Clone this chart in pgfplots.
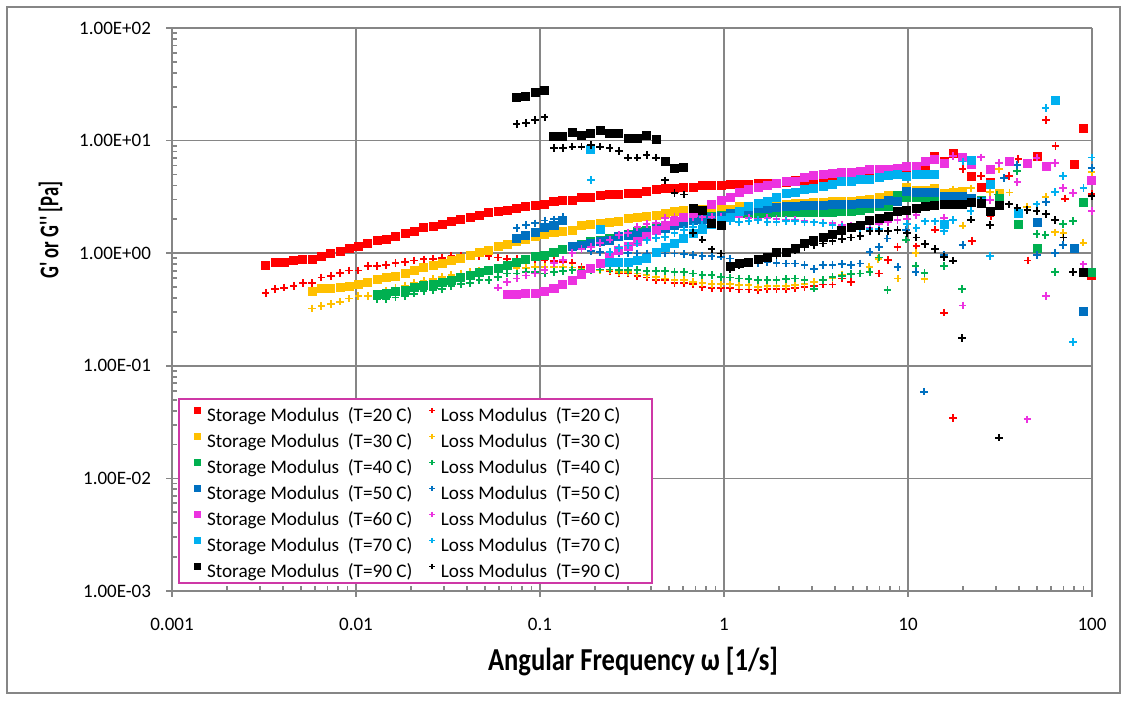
\documentclass[border=0pt]{standalone}
\usepackage{fontspec}
\setmainfont{Carlito}[Ligatures=TeXOff]
\usepackage{graphicx}
\usepackage{pgfplots}
\pgfplotsset{compat=1.18}

\definecolor{c20}{RGB}{255,0,0}
\definecolor{c30}{RGB}{255,192,0}
\definecolor{c40}{RGB}{0,176,80}
\definecolor{c50}{RGB}{0,112,192}
\definecolor{c60}{RGB}{236,50,224}
\definecolor{c70}{RGB}{0,176,240}
\definecolor{c90}{RGB}{0,0,0}
\definecolor{gridgray}{RGB}{134,134,134}
\definecolor{legframe}{RGB}{206,56,166}

\pgfplotsset{
  stor/.style={only marks, mark=square*, mark size=2pt, color=#1,
    legend image post style={mark size=1.5pt}},
  loss/.style={only marks, mark=+, mark size=1.9pt, color=#1,
    mark options={line width=0.95pt},
    legend image post style={mark size=1.3pt, mark options={line width=0.6pt}}},
}

\begin{document}
\begin{tikzpicture}
\path[use as bounding box] (-86pt,-54.5pt) rectangle (477.5pt,295.5pt);
\draw[gridgray, line width=0.8pt] (-82.5pt,-51pt) rectangle (474pt,292pt);

\begin{axis}[
  at={(0pt,0pt)}, anchor=south west,
  scale only axis, width=460pt, height=281.5pt,
  xmode=log, ymode=log,
  xmin=0.001, xmax=100, ymin=0.001, ymax=100,
  xtick={0.001,0.01,0.1,1,10,100},
  xticklabels={0.001,0.01,0.1,1,10,100},
  ytick={0.001,0.01,0.1,1,10,100},
  yticklabels={1.00E-03,1.00E-02,1.00E-01,1.00E+00,1.00E+01,1.00E+02},
  axis x line=bottom, axis y line=left,
  axis line style={-, draw=gridgray, line width=0.9pt},
  x axis line style={-}, y axis line style={-},
  grid=major, major grid style={draw=gridgray, line width=0.9pt},
  tick style={draw=gridgray, line width=0.9pt},
  tick align=center, major tick length=6pt, minor tick length=2.5pt,
  every minor x tick/.append style={yshift=1.25pt},
  every minor y tick/.append style={xshift=1.25pt},
  xticklabel style={font=\fontsize{9.5}{11}\selectfont, yshift=-7pt},
  yticklabel style={font=\fontsize{9.5}{11}\selectfont, xshift=-4pt},
  clip=false,
  legend columns=2,
  legend cell align=left,
  legend image code/.code={\draw[#1, yshift=3.1pt] plot coordinates {(0pt,0pt)};},
  legend style={at={(axis description cs:0.0242,0.3334)}, anchor=north west,
    draw=none, fill=none, inner sep=0pt,
    font=\fontsize{9.6}{11}\selectfont,
    nodes={inner xsep=0pt, inner ysep=1.75pt, text height=7pt, text depth=2.5pt},
    row sep=0pt,
    /tikz/column 1/.style={column sep=3.2pt},
    /tikz/column 2/.style={column sep=8.4pt},
    /tikz/column 3/.style={column sep=3.2pt}},
]

% T = 20 C
\addplot[stor=c20] coordinates {
(0.00323,0.78) (0.00363,0.837) (0.00407,0.837) (0.00458,0.861) (0.00514,0.879) (0.00577,0.879) (0.00649,0.94) (0.00729,0.99) (0.00818,1.04) (0.00919,1.11) (0.0103,1.15) (0.0116,1.21) (0.0130,1.29) (0.0146,1.32) (0.0164,1.40) (0.0185,1.50) (0.0207,1.57) (0.0233,1.68) (0.0262,1.73) (0.0294,1.81) (0.0330,1.92) (0.0371,1.98) (0.0417,2.09) (0.0468,2.16) (0.0526,2.30) (0.0591,2.36) (0.0664,2.42) (0.0746,2.50) (0.0838,2.58) (0.0941,2.65) (0.106,2.72) (0.119,2.86) (0.133,2.96) (0.150,2.96) (0.168,3.14) (0.189,3.14) (0.212,3.23) (0.239,3.32) (0.268,3.32) (0.301,3.43) (0.338,3.43) (0.380,3.53) (0.427,3.65) (0.479,3.76) (0.538,3.76) (0.605,3.83) (0.679,3.83) (0.763,3.99) (0.857,3.99) (0.963,3.99) (1.08,4.10) (1.21,4.10) (1.36,4.10) (1.53,4.21) (1.72,4.21) (1.93,4.21) (2.17,4.25) (2.44,4.39) (2.74,4.45) (3.08,4.48) (3.46,4.57) (3.89,4.57) (4.37,4.70) (4.90,4.76) (5.51,4.83) (6.19,4.96) (6.95,4.96) (7.81,5.03) (8.77,5.03) (9.85,5.10) (11.1,5.24) (12.4,5.46) (14.0,7.17) (15.7,6.47) (17.6,7.69) (22.2,4.83) (25.0,3.82) (28.1,4.27) (50.2,7.27) (79.9,6.13) (89.7,12.9) (99.5,0.64)
};
\addlegendentry{Storage Modulus~~(T=20~C)}
\addplot[loss=c20] coordinates {
(0.00323,0.444) (0.00363,0.482) (0.00407,0.494) (0.00458,0.509) (0.00514,0.545) (0.00577,0.545) (0.00649,0.608) (0.00729,0.631) (0.00818,0.664) (0.00919,0.702) (0.0103,0.702) (0.0116,0.767) (0.0130,0.767) (0.0146,0.787) (0.0164,0.818) (0.0185,0.835) (0.0207,0.861) (0.0233,0.881) (0.0262,0.894) (0.0294,0.912) (0.0330,0.94) (0.0371,0.94) (0.0417,0.954) (0.0468,0.94) (0.0526,0.94) (0.0591,0.916) (0.0664,0.885) (0.0746,0.885) (0.0838,0.885) (0.0941,0.861) (0.106,0.863) (0.119,0.849) (0.133,0.837) (0.150,0.820) (0.168,0.756) (0.189,0.716) (0.212,0.706) (0.239,0.692) (0.268,0.660) (0.301,0.660) (0.338,0.625) (0.380,0.608) (0.427,0.575) (0.479,0.575) (0.538,0.545) (0.605,0.545) (0.679,0.530) (0.763,0.502) (0.857,0.492) (0.963,0.492) (1.08,0.492) (1.21,0.476) (1.36,0.476) (1.53,0.469) (1.72,0.482) (1.93,0.482) (2.17,0.482) (2.44,0.492) (2.74,0.497) (3.08,0.51) (3.46,0.527) (3.89,0.527) (4.37,0.596) (4.90,0.556) (5.51,0.660) (6.19,0.678) (6.95,0.660) (7.81,0.867) (8.77,1.14) (11.1,1.15) (12.4,1.20) (14.0,1.62) (15.7,0.297) (17.6,0.0343) (19.8,5.57) (22.2,1.29) (25.0,4.83) (28.1,2.14) (35.4,4.83) (39.8,6.87) (44.7,0.861) (56.4,15.2) (63.3,8.91) (71.1,3.05) (99.5,3.38)
};
\addlegendentry{Loss Modulus~~(T=20~C)}

% T = 30 C
\addplot[stor=c30] coordinates {
(0.00577,0.460) (0.00649,0.482) (0.00729,0.482) (0.00818,0.494) (0.00919,0.507) (0.0103,0.531) (0.0116,0.556) (0.0130,0.585) (0.0146,0.608) (0.0164,0.628) (0.0185,0.661) (0.0207,0.697) (0.0233,0.746) (0.0262,0.778) (0.0294,0.807) (0.0330,0.861) (0.0371,0.908) (0.0417,0.960) (0.0468,1.01) (0.0526,1.06) (0.0591,1.14) (0.0664,1.19) (0.0746,1.26) (0.0838,1.33) (0.0941,1.42) (0.106,1.48) (0.119,1.54) (0.133,1.56) (0.150,1.60) (0.168,1.76) (0.189,1.81) (0.212,1.84) (0.239,1.88) (0.268,1.92) (0.301,2.03) (0.338,2.06) (0.380,2.13) (0.427,2.17) (0.479,2.25) (0.538,2.33) (0.605,2.38) (0.679,2.44) (0.763,2.44) (0.857,2.44) (0.963,2.47) (1.08,2.47) (1.21,2.63) (1.36,2.63) (1.53,2.71) (1.72,2.71) (1.93,2.71) (2.17,2.71) (2.44,2.76) (2.74,2.76) (3.08,2.80) (3.46,2.80) (3.89,2.86) (4.37,2.86) (4.90,2.86) (5.51,2.96) (6.19,3.02) (6.95,3.16) (7.81,3.29) (8.77,3.16) (9.85,3.88) (11.1,3.63) (12.4,3.63) (14.0,3.75) (15.7,3.39) (17.6,3.48) (19.8,3.52) (31.5,3.39)
};
\addlegendentry{Storage Modulus~~(T=30~C)}
\addplot[loss=c30] coordinates {
(0.00577,0.323) (0.00649,0.340) (0.00729,0.352) (0.00818,0.372) (0.00919,0.396) (0.0103,0.415) (0.0116,0.415) (0.0130,0.437) (0.0146,0.465) (0.0164,0.489) (0.0185,0.514) (0.0207,0.542) (0.0233,0.564) (0.0262,0.588) (0.0294,0.612) (0.0330,0.638) (0.0371,0.658) (0.0417,0.678) (0.0468,0.692) (0.0526,0.706) (0.0591,0.721) (0.0664,0.728) (0.0746,0.736) (0.0838,0.743) (0.0941,0.751) (0.106,0.756) (0.119,0.756) (0.133,0.756) (0.150,0.746) (0.168,0.726) (0.189,0.706) (0.212,0.706) (0.239,0.706) (0.268,0.678) (0.301,0.678) (0.338,0.660) (0.380,0.638) (0.427,0.616) (0.479,0.596) (0.538,0.575) (0.605,0.575) (0.679,0.556) (0.763,0.545) (0.857,0.531) (0.963,0.531) (1.08,0.531) (1.21,0.520) (1.36,0.520) (1.53,0.502) (1.72,0.509) (1.93,0.509) (2.17,0.509) (2.44,0.520) (2.74,0.531) (3.08,0.556) (3.46,0.575) (3.89,0.596) (4.37,0.638) (4.90,0.647) (6.17,0.756) (6.90,0.885) (8.79,0.596) (11.0,1.01) (12.3,0.588) (17.5,3.68) (19.8,1.76) (22.0,3.76) (27.9,3.51) (31.3,5.57) (35.6,3.46) (39.0,6.05) (44.2,2.58) (56.0,3.16) (62.9,1.53) (69.9,1.51) (89.8,1.24) (99.5,5.24)
};
\addlegendentry{Loss Modulus~~(T=30~C)}

% T = 40 C
\addplot[stor=c40] coordinates {
(0.0130,0.430) (0.0146,0.439) (0.0164,0.460) (0.0185,0.469) (0.0207,0.502) (0.0233,0.517) (0.0262,0.527) (0.0294,0.556) (0.0330,0.575) (0.0371,0.608) (0.0417,0.638) (0.0468,0.674) (0.0526,0.697) (0.0591,0.740) (0.0664,0.787) (0.0746,0.837) (0.0838,0.885) (0.0941,0.940) (0.106,0.960) (0.119,1.01) (0.133,1.08) (0.150,1.14) (0.168,1.20) (0.189,1.26) (0.212,1.30) (0.239,1.35) (0.268,1.42) (0.301,1.48) (0.338,1.55) (0.380,1.60) (0.427,1.71) (0.479,1.77) (0.538,1.84) (0.605,1.90) (0.679,1.96) (0.763,2.10) (0.857,2.13) (0.963,2.17) (1.08,2.17) (1.21,2.25) (1.36,2.25) (1.53,2.25) (1.72,2.25) (1.93,2.28) (2.17,2.28) (2.44,2.28) (2.74,2.28) (3.08,2.28) (3.46,2.28) (3.89,2.28) (4.37,2.33) (4.90,2.33) (5.51,2.41) (6.19,2.49) (6.95,2.58) (7.81,2.58) (8.77,3.27) (9.85,3.16) (11.1,3.12) (12.4,3.16) (14.0,3.12) (15.7,3.08) (17.6,3.08) (19.8,3.02) (22.2,3.08) (25.0,2.96) (31.5,3.06) (39.8,1.81) (50.2,1.11) (89.7,2.80) (99.5,0.678)
};
\addlegendentry{Storage Modulus~~(T=40~C)}
\addplot[loss=c40] coordinates {
(0.0130,0.388) (0.0146,0.394) (0.0164,0.404) (0.0185,0.415) (0.0207,0.437) (0.0233,0.462) (0.0262,0.474) (0.0294,0.482) (0.0330,0.509) (0.0371,0.531) (0.0417,0.545) (0.0468,0.575) (0.0526,0.575) (0.0591,0.618) (0.0664,0.660) (0.0746,0.660) (0.0838,0.678) (0.0941,0.678) (0.106,0.660) (0.119,0.678) (0.133,0.692) (0.150,0.706) (0.168,0.716) (0.189,0.706) (0.212,0.716) (0.239,0.716) (0.268,0.706) (0.301,0.706) (0.338,0.706) (0.380,0.692) (0.427,0.692) (0.479,0.692) (0.538,0.678) (0.605,0.678) (0.679,0.660) (0.763,0.638) (0.857,0.638) (0.963,0.616) (1.08,0.608) (1.21,0.596) (1.36,0.588) (1.53,0.575) (1.72,0.575) (1.93,0.575) (2.17,0.588) (2.44,0.596) (2.74,0.575) (3.08,0.484) (3.46,0.575) (3.89,0.612) (4.37,0.631) (4.90,0.651) (5.51,0.660) (6.19,0.678) (6.95,0.916) (7.74,0.469) (9.75,1.32) (11.0,0.767) (12.3,0.664) (15.7,0.767) (19.7,0.479) (30.6,3.32) (39.1,5.38) (50.0,1.48) (55.8,1.45) (63.1,0.683) (69.8,1.82) (79.1,1.94)
};
\addlegendentry{Loss Modulus~~(T=40~C)}

% T = 50 C
\addplot[stor=c50] coordinates {
(0.0746,1.35) (0.0838,1.45) (0.0941,1.53) (0.106,1.68) (0.119,1.75) (0.133,1.94) (0.150,1.14) (0.168,1.18) (0.189,1.23) (0.212,1.26) (0.239,1.30) (0.268,1.40) (0.301,1.43) (0.338,1.49) (0.380,1.54) (0.427,1.63) (0.479,1.66) (0.538,1.75) (0.605,1.84) (0.679,1.96) (0.763,1.99) (0.857,2.10) (0.963,2.13) (1.08,2.25) (1.21,2.36) (1.36,2.41) (1.53,2.49) (1.72,2.49) (1.93,2.55) (2.17,2.61) (2.44,2.61) (2.74,2.64) (3.08,2.64) (3.46,2.67) (3.89,2.71) (4.37,2.71) (4.90,2.71) (5.51,2.76) (6.19,2.76) (6.95,2.76) (7.81,2.96) (8.77,2.86) (9.85,3.55) (11.1,3.50) (12.4,3.48) (14.0,3.45) (15.7,3.21) (17.6,3.21) (19.8,3.21) (22.2,3.08) (25.0,2.86) (50.2,1.86) (79.9,1.11) (89.7,0.305)
};
\addlegendentry{Storage Modulus~~(T=50~C)}
\addplot[loss=c50] coordinates {
(0.0746,1.68) (0.0838,1.77) (0.0941,1.84) (0.106,1.95) (0.119,2.00) (0.133,2.09) (0.189,1.05) (0.212,1.03) (0.239,1.02) (0.268,1.00) (0.301,1.00) (0.338,0.994) (0.380,0.994) (0.427,0.994) (0.479,0.994) (0.538,0.994) (0.605,0.980) (0.679,0.960) (0.763,0.950) (0.857,0.940) (0.963,0.931) (1.08,0.897) (1.21,0.820) (1.36,0.810) (1.53,0.810) (1.72,0.827) (1.93,0.815) (2.17,0.810) (2.44,0.810) (2.74,0.782) (3.08,0.728) (3.46,0.782) (3.89,0.782) (4.37,0.798) (4.90,0.782) (5.51,0.810) (6.19,1.02) (6.95,1.13) (7.73,1.35) (8.79,0.756) (9.75,1.60) (11.0,0.683) (12.2,0.0589) (15.7,0.960) (19.8,1.18) (33.3,4.63) (39.1,6.05) (50.2,0.966) (56.2,2.84) (63.1,1.01) (69.8,1.18) (99.5,5.69)
};
\addlegendentry{Loss Modulus~~(T=50~C)}

% T = 60 C
\addplot[stor=c60] coordinates {
(0.0664,0.430) (0.0746,0.432) (0.0838,0.439) (0.0941,0.442) (0.106,0.462) (0.119,0.484) (0.133,0.531) (0.150,0.575) (0.168,0.647) (0.189,0.736) (0.212,0.820) (0.239,0.931) (0.268,1.05) (0.301,1.15) (0.338,1.28) (0.380,1.40) (0.427,1.60) (0.479,1.75) (0.538,1.92) (0.605,2.10) (0.679,2.28) (0.763,2.41) (0.857,2.72) (0.963,2.96) (1.08,3.16) (1.21,3.46) (1.36,3.70) (1.53,3.83) (1.72,4.02) (1.93,4.21) (2.17,4.30) (2.44,4.30) (2.74,4.73) (3.08,4.88) (3.46,5.03) (3.89,5.10) (4.37,5.17) (4.90,5.27) (5.51,5.38) (6.19,5.54) (6.95,5.54) (7.81,5.54) (8.77,5.65) (9.85,5.86) (11.1,5.93) (12.4,6.47) (14.0,6.80) (15.7,6.30) (19.8,7.12) (22.2,6.13) (28.1,5.57) (35.4,6.59) (44.7,6.27) (56.4,5.89) (99.5,4.39)
};
\addlegendentry{Storage Modulus~~(T=60~C)}
\addplot[loss=c60] coordinates {
(0.0591,0.494) (0.0664,0.553) (0.0746,0.596) (0.0838,0.634) (0.0941,0.660) (0.106,0.706) (0.119,0.820) (0.133,0.867) (0.150,1.01) (0.168,1.09) (0.189,1.14) (0.212,1.23) (0.239,1.32) (0.268,1.45) (0.301,1.51) (0.338,1.70) (0.380,1.81) (0.427,1.84) (0.479,2.05) (0.538,2.11) (0.605,2.10) (0.679,2.10) (0.763,2.10) (0.857,2.11) (0.963,2.09) (1.08,2.11) (1.21,2.09) (1.36,2.06) (1.53,2.00) (1.72,2.07) (1.93,2.02) (2.17,1.99) (2.44,1.96) (2.74,1.92) (3.08,1.88) (3.46,1.87) (3.89,1.84) (4.37,1.79) (4.90,1.75) (5.51,1.72) (6.19,1.68) (6.95,1.81) (7.81,1.88) (8.77,1.96) (9.85,2.03) (11.1,2.17) (15.7,2.07) (17.5,7.27) (19.8,0.343) (24.9,7.09) (28.0,2.96) (31.3,6.30) (39.3,4.30) (44.5,0.0334) (50.0,7.05) (56.1,0.419) (63.1,6.30) (69.8,3.78) (79.1,3.41) (89.7,0.795) (99.5,2.36)
};
\addlegendentry{Loss Modulus~~(T=60~C)}

% T = 70 C
\addplot[stor=c70] coordinates {
(0.189,8.41) (0.212,1.62) (0.239,0.832) (0.268,0.832) (0.301,0.837) (0.338,0.867) (0.380,0.908) (0.427,1.01) (0.479,1.12) (0.538,1.22) (0.605,1.36) (0.679,1.51) (0.763,1.63) (0.857,1.81) (0.963,1.96) (1.08,2.10) (1.21,2.34) (1.36,2.58) (1.53,2.76) (1.72,2.86) (1.93,3.12) (2.17,3.39) (2.44,3.46) (2.74,3.71) (3.08,3.74) (3.46,3.96) (3.89,4.07) (4.37,4.30) (4.90,4.30) (5.51,4.54) (6.19,4.54) (6.95,4.70) (7.81,4.93) (8.77,5.00) (9.85,4.85) (11.1,5.00) (12.4,5.00) (14.0,5.00) (15.7,1.81) (22.2,6.68) (25.0,2.80) (28.1,4.07) (39.8,2.26) (63.3,22.6)
};
\addlegendentry{Storage Modulus~~(T=70~C)}
\addplot[loss=c70] coordinates {
(0.189,4.47) (0.239,1.02) (0.268,1.11) (0.301,1.17) (0.338,1.22) (0.380,1.30) (0.427,1.36) (0.479,1.40) (0.538,1.50) (0.605,1.60) (0.679,1.70) (0.763,1.77) (0.857,1.85) (0.963,1.92) (1.08,1.92) (1.21,1.90) (1.36,1.94) (1.53,1.96) (1.72,1.90) (1.93,1.90) (2.17,1.94) (2.44,1.92) (2.74,1.90) (3.08,1.88) (3.46,1.84) (3.89,1.77) (4.37,1.72) (4.90,1.68) (5.51,1.66) (6.19,1.63) (6.95,1.63) (9.85,1.81) (11.1,1.67) (12.4,1.92) (14.0,1.92) (15.7,1.57) (17.6,1.96) (19.8,6.52) (21.9,2.38) (27.9,0.94) (50.0,2.71) (56.0,19.4) (63.0,3.50) (69.8,4.83) (79.1,0.162) (89.9,3.80) (99.5,7.08)
};
\addlegendentry{Loss Modulus~~(T=70~C)}

% T = 90 C
\addplot[stor=c90] coordinates {
(0.0746,24.3) (0.0838,24.9) (0.0941,26.6) (0.106,28.0) (0.119,10.9) (0.133,10.9) (0.150,11.9) (0.168,11.2) (0.189,11.6) (0.212,12.2) (0.239,11.6) (0.268,11.6) (0.301,10.5) (0.338,10.5) (0.380,11.2) (0.427,10.3) (0.479,6.59) (0.538,5.62) (0.605,5.77) (0.679,2.49) (0.763,2.41) (0.857,1.84) (0.963,1.77) (1.08,0.767) (1.21,0.810) (1.36,0.837) (1.53,0.879) (1.72,0.927) (1.93,1.01) (2.17,1.01) (2.44,1.10) (2.74,1.21) (3.08,1.29) (3.46,1.37) (3.89,1.48) (4.37,1.58) (4.90,1.68) (5.51,1.75) (6.19,1.94) (6.95,2.03) (7.81,2.13) (8.77,2.33) (9.85,2.41) (11.1,2.48) (12.4,2.58) (14.0,2.66) (15.7,2.72) (17.6,2.72) (19.8,2.72) (22.2,2.80) (25.0,2.78) (28.1,2.36) (31.5,2.66) (89.7,0.678)
};
\addlegendentry{Storage Modulus~~(T=90~C)}
\addplot[loss=c90] coordinates {
(0.0746,14.0) (0.0838,14.4) (0.0941,15.2) (0.106,16.1) (0.119,8.64) (0.133,8.64) (0.150,8.83) (0.168,8.83) (0.189,9.14) (0.212,8.83) (0.239,8.64) (0.268,8.13) (0.301,7.05) (0.338,7.05) (0.380,7.45) (0.427,7.05) (0.479,4.43) (0.538,3.41) (0.605,3.32) (0.679,1.51) (0.763,1.32) (0.857,1.08) (0.963,0.994) (1.08,0.716) (1.21,0.782) (1.36,0.832) (1.53,0.867) (1.72,0.921) (1.93,0.96) (2.17,1.0) (2.44,1.06) (2.74,1.13) (3.08,1.18) (3.46,1.22) (3.89,1.29) (4.37,1.33) (4.90,1.38) (5.51,1.42) (6.19,1.58) (6.95,1.58) (7.81,1.58) (8.77,1.60) (9.85,1.50) (11.1,1.38) (12.4,1.20) (14.0,1.09) (15.7,0.927) (17.6,0.858) (19.7,0.176) (22.0,1.99) (24.8,2.91) (28.0,1.77) (31.3,0.023) (35.4,2.71) (39.3,2.54) (44.5,2.43) (50.0,2.36) (56.1,2.23) (63.1,1.98) (70.0,1.38) (79.1,0.678) (99.5,3.24)
};
\addlegendentry{Loss Modulus~~(T=90~C)}

% white legend panel with its frame, laid over grid and points
\draw[legframe, line width=0.8pt, fill=white]
  (axis description cs:0.00761,0.0142) rectangle (axis description cs:0.5217,0.3410);
\end{axis}

\node[rotate=90] at (-60.75pt,180.5pt)
  {\scalebox{0.69}[1]{\fontsize{13.5}{16}\selectfont\bfseries G' or G'' [Pa]}};
\node at (230.5pt,-35.5pt)
  {\scalebox{0.83}[1]{\fontsize{16}{19}\selectfont\bfseries Angular Frequency ω [1/s]}};
\end{tikzpicture}
\end{document}
